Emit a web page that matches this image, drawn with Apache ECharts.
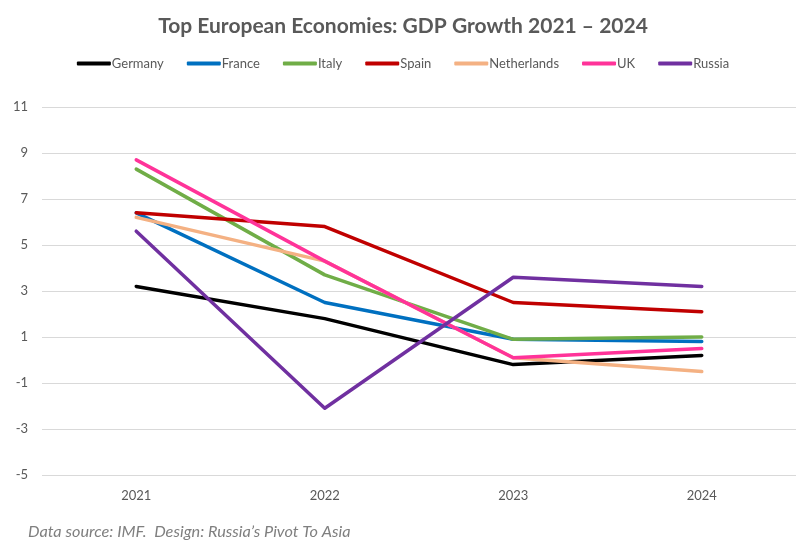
<!DOCTYPE html>
<html><head><meta charset="utf-8">
<script src="https://cdn.jsdelivr.net/npm/echarts@6/dist/echarts.min.js"></script>
<style>html,body{margin:0;padding:0;background:#fff}#c{width:806px;height:552px}</style>
</head><body><div id="c"></div>
<script>
const years = ['2021', '2022', '2023', '2024'];
const germany = [3.2, 1.8, -0.2, 0.2];
const france = [6.4, 2.5, 0.9, 0.8];
const italy = [8.3, 3.7, 0.9, 1.0];
const spain = [6.4, 5.8, 2.5, 2.1];
const netherlands = [6.2, 4.3, 0.1, -0.5];
const uk = [8.7, 4.3, 0.1, 0.5];
const russia = [5.6, -2.1, 3.6, 3.2];
const yTicks = { min: -5, max: 11, interval: 2 };

const seriesDefs = [
  ['Germany', germany, '#000000'],
  ['France', france, '#0070C0'],
  ['Italy', italy, '#70AD47'],
  ['Spain', spain, '#C00000'],
  ['Netherlands', netherlands, '#F4B183'],
  ['UK', uk, '#FF3399'],
  ['Russia', russia, '#7030A0']
];
const font = 'Lato, "Open Sans", sans-serif';
const chart = echarts.init(document.getElementById('c'), null, {renderer: 'canvas'});
chart.setOption({
  animation: false,
  backgroundColor: '#fff',
  title: {
    text: 'Top European Economies: GDP Growth 2021 – 2024',
    left: 'center', top: 11,
    textStyle: {fontFamily: font, fontWeight: 'bold', fontSize: 21, color: '#595959'}
  },
  legend: {
    top: 52, left: 'center',
    itemWidth: 34, itemHeight: 4, itemGap: 23,
    icon: 'roundRect',
    textStyle: {fontFamily: font, fontSize: 13, color: '#595959', padding: [0, 0, 0, -4]},
    data: seriesDefs.map(d => d[0])
  },
  graphic: [{
    type: 'text', left: 28, top: 524,
    style: {text: 'Data source: IMF.  Design: Russia\u2019s Pivot To Asia', fontFamily: font, fontStyle: 'italic', fontSize: 16.3, fill: '#7f7f7f'}
  }],
  grid: {left: 42, right: 10, top: 107, bottom: 77},
  xAxis: {
    type: 'category', data: years, boundaryGap: true,
    axisLine: {show: false}, axisTick: {show: false},
    axisLabel: {fontFamily: font, fontSize: 13, color: '#595959', margin: 14}
  },
  yAxis: {
    type: 'value', min: yTicks.min, max: yTicks.max, interval: yTicks.interval,
    axisLine: {show: false}, axisTick: {show: false},
    axisLabel: {fontFamily: font, fontSize: 13, color: '#595959', margin: 14},
    splitLine: {lineStyle: {color: '#d9d9d9', width: 1}}
  },
  series: seriesDefs.map(d => ({
    name: d[0], type: 'line', data: d[1], symbol: 'none',
    lineStyle: {color: d[2], width: 3.5, cap: 'round', join: 'round'},
    itemStyle: {color: d[2]}
  }))
});
</script></body></html>
